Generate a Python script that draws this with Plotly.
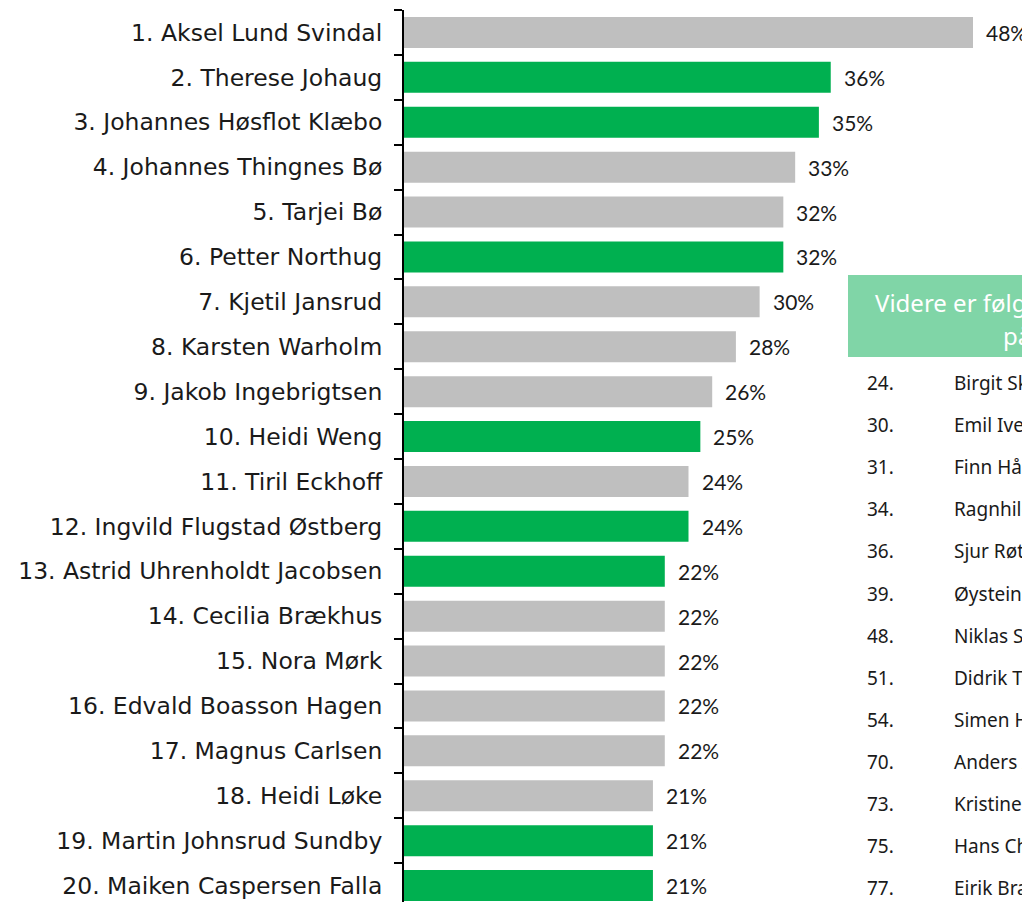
import plotly.graph_objects as go

# ---- data ----
athletes = [
    "1. Aksel Lund Svindal", "2. Therese Johaug", "3. Johannes Høsflot Klæbo",
    "4. Johannes Thingnes Bø", "5. Tarjei Bø", "6. Petter Northug",
    "7. Kjetil Jansrud", "8. Karsten Warholm", "9. Jakob Ingebrigtsen",
    "10. Heidi Weng", "11. Tiril Eckhoff", "12. Ingvild Flugstad Østberg",
    "13. Astrid Uhrenholdt Jacobsen", "14. Cecilia Brækhus", "15. Nora Mørk",
    "16. Edvald Boasson Hagen", "17. Magnus Carlsen", "18. Heidi Løke",
    "19. Martin Johnsrud Sundby", "20. Maiken Caspersen Falla",
]
values = [48, 36, 35, 33, 32, 32, 30, 28, 26, 25, 24, 24, 22, 22, 22, 22, 22, 21, 21, 21]
is_green = [False, True, True, False, False, True, False, False, False, True,
            False, True, True, False, False, False, False, False, True, True]

more_title_line1 = "Videre er følgende idrettsutøvere"
more_title_line2 = "på listen:"
more_ranks = ["24.", "30.", "31.", "34.", "36.", "39.", "48.", "51.", "54.", "70.", "73.", "75.", "77."]
more_names = ["Birgit Skarstein", "Emil Iversen", "Finn Hågen Krogh", "Ragnhild Mowinckel",
              "Sjur Røthe", "Øystein Braaten", "Niklas Sylte", "Didrik Tønseth",
              "Simen Hegstad Krüger", "Anders Aukland", "Kristine Stavås Skistad",
              "Hans Christer Holund", "Eirik Brandsdal"]

GREEN = "#00B050"
GREY = "#BFBFBF"
BOX = "#80D5A7"

OFF = 8  # page body margin in the browser
W, H = 1030, 902
ML, MR, MT, MB = 404 - OFF, 0, 10 - OFF, 0
PW, PH = W - ML - MR, H - MT - MB
PITCH = 44.9          # px per row
PX_PER_PCT = 11.854   # px per percent


def px(xs):
    return (xs - OFF - ML) / PW


def py(ys):
    return 1 - (ys - OFF - MT) / PH


colors = [GREEN if g else GREY for g in is_green]

fig = go.Figure(go.Bar(
    x=values, y=athletes, orientation="h",
    marker=dict(color=colors, line=dict(width=0)),
    width=0.69, hoverinfo="skip",
))

annotations = []
for a, v in zip(athletes, values):
    annotations.append(dict(
        x=v, y=a, xref="x", yref="y", text=f"{v}%", showarrow=False,
        xanchor="left", yanchor="middle", xshift=11,
        font=dict(family="Lato", size=21, color="#1a1a1a"),
    ))

# right panel
annotations.append(dict(x=px(873), y=py(302), xref="paper", yref="paper",
                        text=more_title_line1, showarrow=False, xanchor="left", yanchor="middle",
                        font=dict(family="Noto Sans", size=24, color="white")))
annotations.append(dict(x=px(1001), y=py(335), xref="paper", yref="paper",
                        text=more_title_line2, showarrow=False, xanchor="left", yanchor="middle",
                        font=dict(family="Noto Sans", size=24, color="white")))
for i, (r, n) in enumerate(zip(more_ranks, more_names)):
    yy = py(383 + 42.1 * i)
    annotations.append(dict(x=px(865), y=yy, xref="paper", yref="paper", text=r,
                            showarrow=False, xanchor="left", yanchor="middle",
                            font=dict(family="Noto Sans", size=19, color="#1a1a1a")))
    annotations.append(dict(x=px(952), y=yy, xref="paper", yref="paper", text=n,
                            showarrow=False, xanchor="left", yanchor="middle",
                            font=dict(family="Noto Sans", size=19, color="#1a1a1a")))

shapes = [dict(type="rect", xref="paper", yref="paper",
               x0=px(848), x1=px(1300), y0=py(357), y1=py(275),
               fillcolor=BOX, line=dict(width=0), layer="below")]

fig.update_layout(
    width=W, height=H,
    margin=dict(l=ML, r=MR, t=MT, b=MB, pad=0),
    plot_bgcolor="white", paper_bgcolor="white",
    showlegend=False,
    xaxis=dict(range=[0, PW / PX_PER_PCT], visible=False, fixedrange=True),
    yaxis=dict(
        type="category",
        range=[-0.5 + PH / PITCH, -0.5],
        showline=True, linecolor="black", linewidth=2,
        ticks="outside", ticklen=8, tickcolor="black", tickwidth=2,
        tickson="boundaries",
        ticklabelstandoff=15,
        tickfont=dict(family="DejaVu Sans", size=23.5, color="#1a1a1a"),
        showgrid=False, zeroline=False, fixedrange=True,
    ),
    annotations=annotations,
    shapes=shapes,
)

fig.write_html("out.html")
